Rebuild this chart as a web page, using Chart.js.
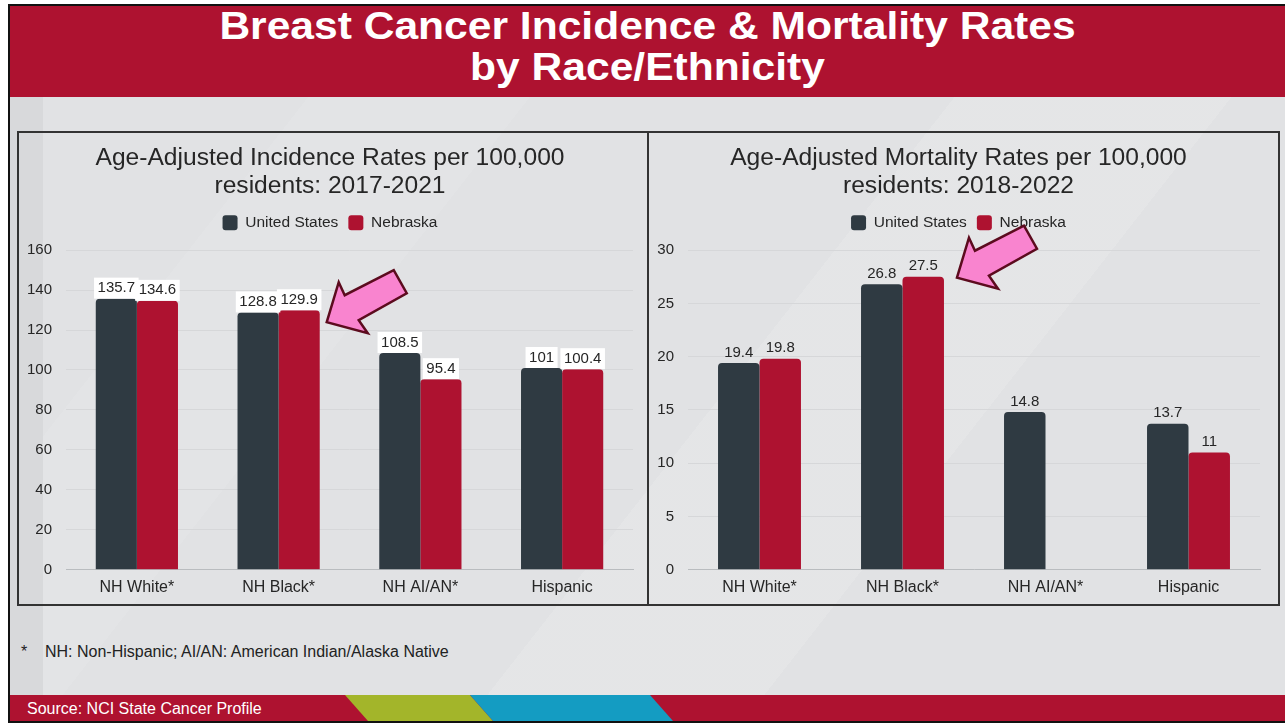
<!DOCTYPE html>
<html>
<head>
<meta charset="utf-8">
<script src="https://cdn.jsdelivr.net/npm/chart.js@4.4.1/dist/chart.umd.min.js"></script>
<style>
  body { margin: 0; width: 1285px; height: 723px; overflow: hidden; background: #fff;
         font-family: "Liberation Sans", Arial, sans-serif; }
  .abs { position: absolute; }
  #frame { left: 8px; top: 4px; width: 1290px; height: 719px; box-sizing: border-box;
           border-left: 2px solid #111; border-top: 2px solid #111; border-bottom: 2px solid #111;
           background: #e1e2e4;
           background-image:
             linear-gradient(128deg, rgba(255,255,255,0) 55%, rgba(255,255,255,0.12) 55%, rgba(255,255,255,0.12) 70%, rgba(255,255,255,0) 70%),
             linear-gradient(128deg, rgba(255,255,255,0) 20%, rgba(255,255,255,0.08) 20%, rgba(255,255,255,0.08) 32%, rgba(255,255,255,0) 32%); }
  #header { left: 10px; top: 6px; width: 1275px; height: 91px; background: #ae1230; }
  #title { left: 10px; top: 6px; width: 1275px; color: #fff; font-weight: bold; font-size: 38px;
           line-height: 41px; text-align: center; transform: scaleX(1.12); transform-origin: 637.5px 0; }
  #strip { left: 10px; top: 97px; width: 33px; height: 598px; background: #d8d9db; }
  .panel { top: 131px; height: 475px; box-sizing: border-box; border: 2px solid #333; }
  #note { left: 21px; top: 643px; font-size: 16px; color: #222; }
  #note span { display: inline-block; width: 24px; }
  #footer { left: 10px; top: 695px; width: 1275px; height: 26px; }
  #source { left: 27px; top: 700px; color: #fff; font-size: 16px; }
</style>
</head>
<body>
<div id="frame" class="abs"></div>
<div id="header" class="abs"></div>
<div id="title" class="abs">Breast Cancer Incidence &amp; Mortality Rates<br>by Race/Ethnicity</div>
<div id="strip" class="abs"></div>
<div class="abs panel" style="left:17px; width:632px;"></div>
<div class="abs panel" style="left:647px; width:633px;"></div>
<canvas id="incidence" class="abs" width="629" height="473" style="left:18px; top:132px;"></canvas>
<canvas id="mortality" class="abs" width="628" height="473" style="left:650px; top:132px;"></canvas>
<div id="note" class="abs"><span>*</span>NH: Non-Hispanic; AI/AN: American Indian/Alaska Native</div>
<svg id="footer" class="abs" width="1275" height="26">
  <rect x="0" y="0" width="1275" height="26" fill="#ae1230"/>
  <polygon points="335,0 460,0 483,26 358,26" fill="#a3b52a"/>
  <polygon points="460,0 640,0 663,26 483,26" fill="#149cc2"/>
</svg>
<div id="source" class="abs">Source: NCI State Cancer Profile</div>

<script>
const categories = ['NH White*', 'NH Black*', 'NH AI/AN*', 'Hispanic'];
const seriesNames = ['United States', 'Nebraska'];

const incidenceUS = [135.7, 128.8, 108.5, 101];
const incidenceNE = [134.6, 129.9, 95.4, 100.4];
const incidenceMax = 160;
const incidenceStep = 20;

const mortalityUS = [19.4, 26.8, 14.8, 13.7];
const mortalityNE = [19.8, 27.5, null, 11];
const mortalityMax = 30;
const mortalityStep = 5;

const usColor = '#2f3a42';
const neColor = '#ae1230';
const textColor = '#262626';
const fontFamily = '"Liberation Sans", Arial, sans-serif';

// value labels above the bars (the left chart has white boxes behind them)
const barLabels = {
  id: 'barLabels',
  afterDatasetsDraw(chart, args, opts) {
    const ctx = chart.ctx;
    ctx.save();
    ctx.font = '15px ' + fontFamily;
    ctx.textAlign = 'center';
    ctx.textBaseline = 'middle';
    chart.data.datasets.forEach((ds, i) => {
      chart.getDatasetMeta(i).data.forEach((bar, j) => {
        const v = ds.data[j];
        if (v == null) return;
        const txt = String(v);
        if (opts.boxed) {
          const w = ctx.measureText(txt).width + 7;
          ctx.fillStyle = '#fff';
          ctx.fillRect(bar.x - w / 2, bar.y - 21, w, 21);
        }
        ctx.fillStyle = textColor;
        ctx.fillText(txt, bar.x, bar.y - 10.5);
      });
    });
    ctx.restore();
  }
};

// pink pointer arrow next to the Nebraska / NH Black bar
const arrowShape = [[0, 0], [12, -40], [18, -27], [67, -52], [80, -29], [32, -2], [41, 11]];
const pointer = {
  id: 'pointer',
  afterDraw(chart, args, opts) {
    const bar = chart.getDatasetMeta(opts.dataset).data[opts.index];
    const x0 = bar.x + bar.width / 2 + opts.dx;
    const y0 = bar.y + opts.dy;
    const ctx = chart.ctx;
    ctx.save();
    ctx.beginPath();
    arrowShape.forEach(([px, py], k) => {
      if (k === 0) ctx.moveTo(x0 + px, y0 + py);
      else ctx.lineTo(x0 + px, y0 + py);
    });
    ctx.closePath();
    ctx.fillStyle = '#f984cf';
    ctx.fill();
    ctx.lineWidth = 2.5;
    ctx.lineJoin = 'miter';
    ctx.strokeStyle = '#5c0b1e';
    ctx.stroke();
    ctx.restore();
  }
};

function makeChart(id, titleLines, us, ne, max, step, boxed, pad, yWidth, arrow) {
  new Chart(document.getElementById(id), {
    type: 'bar',
    data: {
      labels: categories,
      datasets: [
        { label: seriesNames[0], data: us, backgroundColor: usColor },
        { label: seriesNames[1], data: ne, backgroundColor: neColor }
      ]
    },
    options: {
      responsive: false,
      animation: false,
      devicePixelRatio: 1,
      layout: { padding: pad },
      datasets: {
        bar: { categoryPercentage: 0.58, barPercentage: 1.0,
               borderRadius: { topLeft: 4, topRight: 4 }, borderSkipped: 'start' }
      },
      scales: {
        x: {
          grid: { display: false, drawTicks: false },
          border: { display: true, color: '#b9bcbf' },
          ticks: { color: textColor, font: { family: fontFamily, size: 16 }, padding: 8 }
        },
        y: {
          min: 0, max: max,
          grid: { color: '#d6d7d9', drawTicks: false },
          border: { display: false },
          ticks: { stepSize: step, color: textColor, font: { family: fontFamily, size: 15 }, padding: 14 },
          afterFit: (scale) => { scale.width = yWidth; }
        }
      },
      plugins: {
        title: {
          display: true, text: titleLines, color: textColor,
          font: { family: fontFamily, size: 24.6, weight: 'normal', lineHeight: 1.14 },
          padding: { top: 12, bottom: 5 }
        },
        subtitle: {
          display: true, text: ' ', weight: 500,
          font: { size: 1, lineHeight: 1.5 }, padding: { top: 8, bottom: 0 }
        },
        legend: {
          labels: {
            color: textColor, font: { family: fontFamily, size: 15.5 },
            boxWidth: 15, boxHeight: 15, useBorderRadius: true, borderRadius: 3, padding: 10
          }
        },
        tooltip: { enabled: false },
        barLabels: { boxed: boxed },
        pointer: arrow
      }
    },
    plugins: [barLabels, pointer]
  });
}

makeChart('incidence', ['Age-Adjusted Incidence Rates per 100,000', 'residents: 2017-2021'],
  incidenceUS, incidenceNE, incidenceMax, incidenceStep, true,
  { left: 9, right: 14, top: 0, bottom: 0 }, 39,
  { dataset: 1, index: 1, dx: 7, dy: 12 });

makeChart('mortality', ['Age-Adjusted Mortality Rates per 100,000', 'residents: 2018-2022'],
  mortalityUS, mortalityNE, mortalityMax, mortalityStep, false,
  { left: 7, right: 18, top: 0, bottom: 0 }, 31,
  { dataset: 1, index: 1, dx: 13, dy: 1 });
</script>
</body>
</html>
